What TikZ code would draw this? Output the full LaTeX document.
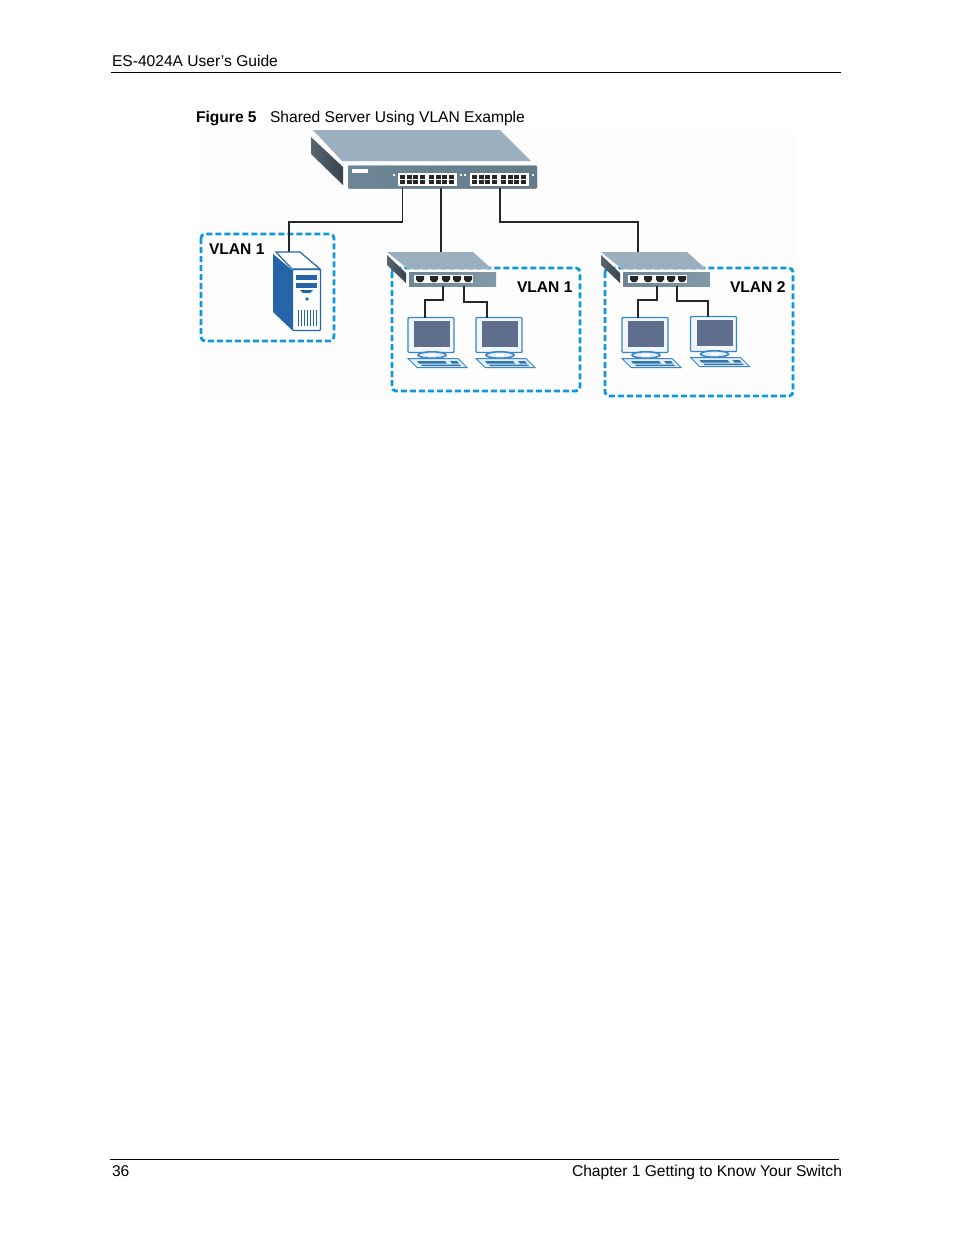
\documentclass[tikz,border=0pt]{standalone}
\usepackage{fontspec}
\setmainfont{Liberation Sans}
\definecolor{swtop}{RGB}{154, 176, 192}
\definecolor{swfront}{RGB}{108, 134, 149}
\definecolor{swside}{RGB}{70, 84, 97}
\definecolor{dashblue}{RGB}{14, 151, 220}
\definecolor{pcblue}{RGB}{58, 134, 200}
\definecolor{srvblue}{RGB}{38, 100, 168}
\definecolor{screen}{RGB}{95, 110, 140}
\definecolor{paleblue}{RGB}{225, 238, 248}
\tikzset{
  pagetext/.style={inner sep=0, outer sep=0, anchor=base west, font=\fontsize{15.6pt}{18pt}\selectfont},
  pagerule/.style={line width=0.8pt},
  wire/.style={line width=1.5pt, black!85},
  vlanbox/.style={line width=2.8pt, dashblue, dash pattern=on 6pt off 3pt, rounded corners=4pt},
  vlantext/.style={pagetext, font=\fontsize{15.6pt}{18pt}\bfseries\selectfont},
  plate/.style={inner sep=0, outer sep=0, draw=none, fill=swfront},
  monitor/.style={inner sep=0, outer sep=0, draw=pcblue, line width=1.4pt, fill=paleblue!50, rounded corners=1pt, minimum width=46pt, minimum height=35pt, anchor=north west},
}
\begin{document}
\begin{tikzpicture}[x=1pt,y=-1pt]
\useasboundingbox (0,0) rectangle (954,1235);
% shape of a small switch, #1 = name, at (#2,#3)
\def\smallswitch#1#2#3{
\begin{scope}[shift={(#2,#3)}]
\fill [swtop] (0,0) -- (86,0) -- (105,17) -- (21,17) -- cycle;
\shade [left color=swside!90, right color=swside!80!black] (0,3) -- (19,21) -- (19,31) -- (0,13) -- cycle;
\node [plate, left color=swfront, right color=swfront!85!white, minimum width=87pt, minimum height=14pt, anchor=north west] (#1) at (22,20) {};
\fill [white!92!swtop] (27,23) rectangle (86,31);
\foreach \portx in {33,47,59,70,81} {
  \fill [black!85] (\portx-4,24) -- (\portx+4,24) -- (\portx+4,27.5) -- (\portx+2,30) -- (\portx-2,30) -- (\portx-4,27.5) -- cycle;
}
\end{scope}
}
% shape of a computer, #1 = name, at (#2,#3)
\def\computer#1#2#3{
\begin{scope}[shift={(#2,#3)}]
\node [monitor] (#1) at (0,0) {};
\fill [screen] (6,3) rectangle (42,29);
\draw [line width=1.6pt, pcblue, fill=paleblue] (24,37.5) ellipse (14 and 3.2);
\fill [white] (20,36) rectangle (28,38);
\draw [line width=1pt, pcblue, fill=paleblue] (0,41) -- (50,41) -- (59,50) -- (9,50) -- cycle;
\fill [pcblue!85!black] (9,43.5) -- (37,43.5) -- (39,46) -- (11,46) -- cycle;
\fill [pcblue!85!black] (42,43.5) -- (49,43.5) -- (51,46) -- (44,46) -- cycle;
\fill [pcblue!85!black] (13,47) -- (52,47) -- (53,48.5) -- (14,48.5) -- cycle;
\end{scope}
}
% page furniture
\node [pagetext] (head) at (112,66) {ES-4024A User’s Guide};
\coordinate (headL) at (111,72.5);
\coordinate (headR) at (841,72.5);
\draw [pagerule] (headL) -- (headR);
\node [pagetext, font=\fontsize{15.6pt}{18pt}\bfseries\selectfont] (figno) at (196,122) {Figure 5};
\node [pagetext] (figcap) at (270,122) {Shared Server Using VLAN Example};
\coordinate (footL) at (110,1159.5);
\coordinate (footR) at (839,1159.5);
\draw [pagerule] (footL) -- (footR);
\node [pagetext] (pageno) at (112,1176) {36};
\node [pagetext, anchor=base east] (chapter) at (842,1176) {Chapter 1 Getting to Know Your Switch};
% pale ground of the figure
\fill [black!0.8] (199,130) rectangle (795,398);
% vlan boxes
\draw [vlanbox] (201,234) rectangle (334,341);
\draw [vlanbox] (392,268) rectangle (580,391);
\draw [vlanbox] (605,268) rectangle (793,396);
\node [vlantext] (vlanA) at (209,254) {VLAN 1};
\node [vlantext] (vlanB) at (517,292) {VLAN 1};
\node [vlantext] (vlanC) at (730,292) {VLAN 2};
% main switch
\fill [swtop] (313,130) -- (500,130) -- (531,161) -- (342,161) -- cycle;
\shade [left color=swside!90, right color=swside!80!black] (311,137) -- (343,167) -- (343,185) -- (311,154) -- cycle;
\node [plate, rounded corners=1pt, left color=swfront, right color=swfront!92!black, minimum width=189pt, minimum height=23pt, anchor=north west] (swmain) at (348,165.5) {};
\fill [white] (352,169) rectangle (368,172.5);
\foreach \dotx in {394,461,465,533} {
  \fill [white] (\dotx-1.2,174) rectangle (\dotx+1.2,176.4);
}
\foreach \blockx in {398,470} {
  \fill [white] (\blockx,173) rectangle (\blockx+59,185.5);
  \foreach \portx in {2,8.5,15,21.5,31,37.5,44,50.5} {
    \fill [black!85] (\blockx+\portx,174.5) rectangle (\blockx+\portx+5.2,178.5);
    \fill [black!85] (\blockx+\portx,180) rectangle (\blockx+\portx+5.2,184);
  }
}
% server
\coordinate (upA) at (402.5,188);
\coordinate (srvtop) at (289,252);
\draw [wire] (upA) -- ++(0,34) -| (srvtop);
\draw [line width=1.2pt, srvblue, fill=white] (276,252) -- (300,252) -- (320,269) -- (292,269) -- cycle;
\fill [srvblue] (273,254) -- (292,270) -- (292,330) -- (273,312) -- cycle;
\node [inner sep=0, outer sep=0, draw=srvblue, line width=1.2pt, fill=white, rounded corners=1pt, minimum width=28pt, minimum height=61pt, anchor=north west] (server) at (292.5,269.5) {};
\fill [srvblue] (296,275) rectangle (317,279.5);
\fill [srvblue] (296,283) rectangle (317,287.5);
\fill [srvblue] (300,290) -- (313,290) -- (310,293) -- (303,293) -- cycle;
\fill [srvblue] (307,299) circle (1.9);
\foreach \ventx in {297.5,300.5,303.5,306.5,309.5,312.5,315.5} {
  \fill [srvblue] (\ventx,310) rectangle (\ventx+1.7,326);
}
% small switches and computers
\smallswitch{swleft}{387}{252}
\smallswitch{swright}{601}{252}
\computer{pcA}{408}{317.5}
\computer{pcB}{476}{317.5}
\computer{pcC}{622}{317.5}
\computer{pcD}{690.5}{316.5}
% links from main switch
\coordinate (upB) at (441,188);
\coordinate (swltop) at (441,252);
\draw [wire] (upB) -- (swltop);
\coordinate (upC) at (500,188);
\coordinate (swrtop) at (638,252);
\draw [wire] (upC) -- ++(0,34) -| (swrtop);
% links to computers
\draw [wire] ([xshift=-9.5pt]swleft.south) -- ++(0,14) -| ([xshift=-6pt]pcA.north);
\draw [wire] ([xshift=11.5pt]swleft.south) -- ++(0,16) -| ([xshift=-12pt]pcB.north);
\draw [wire] ([xshift=-9.5pt]swright.south) -- ++(0,14) -| ([xshift=-7pt]pcC.north);
\draw [wire] ([xshift=10.5pt]swright.south) -- ++(0,15) -| ([xshift=-5.5pt]pcD.north);
\end{tikzpicture}
\end{document}
